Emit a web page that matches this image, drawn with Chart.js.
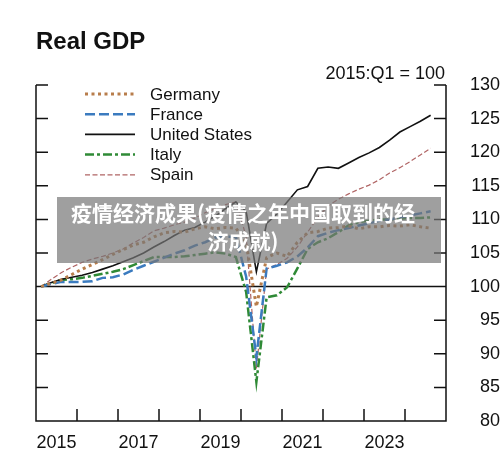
<!DOCTYPE html>
<html>
<head>
<meta charset="utf-8">
<script src="https://cdn.jsdelivr.net/npm/chart.js@4.4.1/dist/chart.umd.min.js"></script>
<style>
  html, body { margin: 0; padding: 0; background: #fff; }
  #wrap { position: relative; width: 500px; height: 461px; }
  #overlay {
    position: absolute; left: 57px; top: 197px; width: 384px; height: 66px;
    background: rgba(118, 118, 118, 0.7);
    color: #fff; font-family: "Noto Sans CJK SC", sans-serif; font-weight: bold;
    font-size: 21px; line-height: 28px; text-align: center;
    box-sizing: border-box; padding-top: 1px; padding-right: 12px;
  }
</style>
</head>
<body>
<div id="wrap">
  <canvas id="gdpChart" width="500" height="461"></canvas>
  <div id="overlay">疫情经济成果(疫情之年中国取到的经<br>济成就)</div>
</div>
<script>
const quarters = [
    '2015Q1', '2015Q2', '2015Q3', '2015Q4', '2016Q1', '2016Q2', '2016Q3', '2016Q4',
    '2017Q1', '2017Q2', '2017Q3', '2017Q4', '2018Q1', '2018Q2', '2018Q3', '2018Q4',
    '2019Q1', '2019Q2', '2019Q3', '2019Q4', '2020Q1', '2020Q2', '2020Q3', '2020Q4',
    '2021Q1', '2021Q2', '2021Q3', '2021Q4', '2022Q1', '2022Q2', '2022Q3', '2022Q4',
    '2023Q1', '2023Q2', '2023Q3', '2023Q4', '2024Q1', '2024Q2', '2024Q3'
];
const germany = [100, 100.5, 101.0, 101.8, 102.6, 103.3, 104.0, 104.8, 105.5, 106.2, 106.6, 107.4,
    108.0, 108.2, 108.1, 108.6, 108.9, 108.6, 108.8, 108.7, 106.6, 97.0, 104.3, 105.0,
    104.5, 106.6, 108.0, 108.2, 108.7, 108.8, 109.0, 108.6, 108.9, 108.9, 109.1, 109.0,
    109.2, 108.9, 108.7];
const france = [100, 100.4, 100.7, 100.7, 100.7, 100.8, 101.3, 101.4, 101.8, 102.5, 103.1, 103.7,
    104.3, 104.9, 105.4, 106.1, 106.6, 107.3, 107.4, 107.4, 101.5, 89.5, 102.7, 103.1,
    103.6, 104.5, 105.8, 107.5, 108.0, 108.4, 108.7, 109.1, 109.4, 109.8, 110.0, 110.3,
    110.6, 110.9, 111.2];
const unitedStates = [100, 100.6, 101.1, 101.4, 101.7, 102.1, 102.6, 103.1, 103.7, 104.3, 105.0, 105.9,
    106.7, 107.6, 108.4, 108.8, 109.6, 110.5, 111.6, 112.6, 111.2, 102.2, 109.4, 110.8,
    112.6, 114.4, 114.9, 117.6, 117.8, 117.6, 118.4, 119.2, 119.9, 120.7, 121.8, 123.0,
    123.8, 124.6, 125.5];
const italy = [100, 100.5, 101.0, 101.1, 101.3, 101.6, 101.9, 102.2, 102.6, 103.2, 103.8, 104.4,
    104.4, 104.4, 104.5, 104.7, 104.9, 105.1, 104.9, 104.4, 99.2, 85.8, 98.4, 98.7,
    99.9, 102.7, 105.6, 106.6, 107.2, 108.1, 109.1, 109.6, 109.8, 110.0, 110.0, 110.1,
    110.2, 110.2, 110.3];
const spain = [100, 101.1, 102.1, 102.9, 103.6, 104.1, 104.5, 105.0, 105.6, 106.5, 107.3, 108.3,
    108.7, 109.2, 109.6, 110.2, 111.0, 111.6, 112.2, 112.6, 107.5, 87.8, 102.6, 103.3,
    104.2, 105.9, 108.1, 110.3, 112.0, 113.0, 113.8, 114.5, 115.1, 115.9, 116.9, 117.7,
    118.6, 119.6, 120.6];
const yearLabels = [2015, 2017, 2019, 2021, 2023];
const yTicks = [80, 85, 90, 95, 100, 105, 110, 115, 120, 125, 130];

const FONT = '"Liberation Sans", Arial, Helvetica, sans-serif';

// quarter string -> position in years (middle of the quarter)
function qPos(q) {
    return parseInt(q.slice(0, 4)) + (parseInt(q.slice(5)) - 0.5) / 4;
}
function toPoints(values) {
    return values.map((v, i) => ({ x: qPos(quarters[i]), y: v }));
}

const frame = {
    id: 'frame',
    beforeDatasetsDraw(chart) {
        const { ctx, chartArea: a, scales } = chart;
        ctx.save();
        ctx.strokeStyle = '#111';
        ctx.lineWidth = 1.5;
        ctx.beginPath();
        ctx.moveTo(a.left, a.top); ctx.lineTo(a.left, a.bottom);
        ctx.lineTo(a.right, a.bottom); ctx.lineTo(a.right, a.top);
        yTicks.forEach(v => {
            const y = scales.y.getPixelForValue(v);
            ctx.moveTo(a.left, y); ctx.lineTo(a.left + 12, y);
            ctx.moveTo(a.right - 12, y); ctx.lineTo(a.right, y);
        });
        for (let yr = 2016; yr <= 2024; yr++) {
            const x = scales.x.getPixelForValue(yr);
            ctx.moveTo(x, a.bottom); ctx.lineTo(x, a.bottom - 12);
        }
        const y100 = scales.y.getPixelForValue(100);
        ctx.moveTo(a.left, y100); ctx.lineTo(a.right, y100);
        ctx.stroke();
        ctx.restore();
    },
    afterDraw(chart) {
        const { ctx } = chart;
        ctx.save();
        ctx.fillStyle = '#111';
        ctx.font = 'bold 24px ' + FONT;
        ctx.textBaseline = 'alphabetic';
        ctx.fillText('Real GDP', 36, 49);
        ctx.font = '18px ' + FONT;
        ctx.textAlign = 'right';
        ctx.fillText('2015:Q1 = 100', 445, 79);
        // legend
        ctx.textAlign = 'left';
        ctx.textBaseline = 'middle';
        ctx.font = '17px ' + FONT;
        chart.data.datasets.forEach((ds, i) => {
            const y = 94 + i * 20.2;
            ctx.strokeStyle = ds.borderColor;
            ctx.lineWidth = ds.borderWidth;
            ctx.setLineDash(ds.borderDash || []);
            ctx.beginPath();
            ctx.moveTo(85, y); ctx.lineTo(135, y);
            ctx.stroke();
            ctx.fillStyle = '#111';
            ctx.fillText(ds.label, 150, y + 1);
        });
        ctx.restore();
    }
};

const ctx = document.getElementById('gdpChart').getContext('2d');
new Chart(ctx, {
    type: 'line',
    data: {
        datasets: [
            { label: 'Germany', data: toPoints(germany), borderColor: '#b87d4b', borderWidth: 3, borderDash: [3, 3.5] },
            { label: 'France', data: toPoints(france), borderColor: '#3b7bbf', borderWidth: 2.5, borderDash: [10, 4] },
            { label: 'United States', data: toPoints(unitedStates), borderColor: '#111111', borderWidth: 1.6 },
            { label: 'Italy', data: toPoints(italy), borderColor: '#2f8a36', borderWidth: 2.5, borderDash: [9, 3, 3, 3] },
            { label: 'Spain', data: toPoints(spain), borderColor: '#b06464', borderWidth: 1.2, borderDash: [5, 2.5] }
        ]
    },
    options: {
        responsive: false,
        animation: false,
        devicePixelRatio: 1,
        layout: { padding: { left: 36, top: 85, right: 0, bottom: 0 } },
        elements: { point: { radius: 0 }, line: { tension: 0 } },
        plugins: { legend: { display: false }, tooltip: { enabled: false } },
        scales: {
            x: {
                type: 'linear', min: 2015, max: 2025,
                afterBuildTicks: axis => { axis.ticks = yearLabels.map(y => ({ value: y + 0.5 })); },
                afterFit: s => { s.height = 40; },
                ticks: {
                    callback: v => String(Math.floor(v)),
                    autoSkip: false, maxRotation: 0, padding: 3,
                    color: '#111', font: { family: FONT, size: 18 }
                },
                grid: { display: false },
                border: { display: false }
            },
            y: {
                type: 'linear', position: 'right', min: 80, max: 130,
                afterFit: s => { s.width = 54; },
                ticks: {
                    stepSize: 5, padding: 6, crossAlign: 'far',
                    color: '#111', font: { family: FONT, size: 18 }
                },
                grid: { display: false },
                border: { display: false }
            }
        }
    },
    plugins: [frame]
});
</script>
</body>
</html>
